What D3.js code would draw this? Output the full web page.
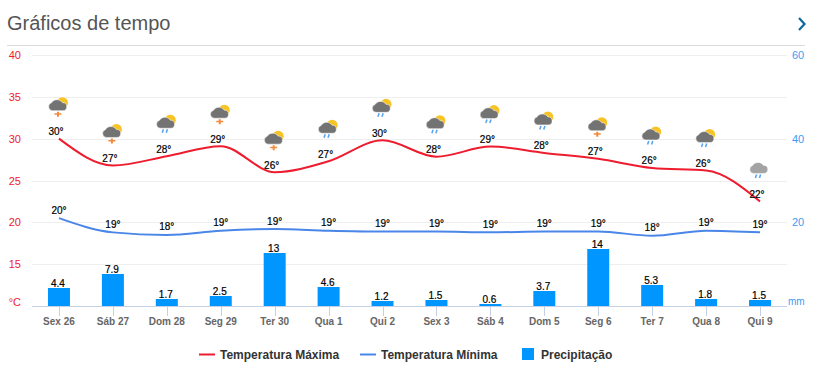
<!DOCTYPE html>
<html>
<head>
<meta charset="utf-8">
<script src="https://cdn.jsdelivr.net/npm/d3@7"></script>
<style>
  html, body { margin: 0; padding: 0; background: #fff; overflow: hidden; }
  text { font-family: "Liberation Sans", Arial, sans-serif; }
</style>
</head>
<body>
<div id="chart"></div>
<script>
const days = ["Sex 26", "Sáb 27", "Dom 28", "Seg 29", "Ter 30", "Qua 1", "Qui 2", "Sex 3", "Sáb 4", "Dom 5", "Seg 6", "Ter 7", "Qua 8", "Qui 9"];
const tempMax = [30.0, 26.8, 27.9, 29.1, 26.0, 27.3, 29.8, 27.85, 29.05, 28.3, 27.6, 26.5, 26.2, 22.5];
const tempMaxLabels = [30, 27, 28, 29, 26, 27, 30, 28, 29, 28, 27, 26, 26, 22];
const tempMin = [20.5, 18.8, 18.5, 19.0, 19.2, 19.0, 18.9, 18.9, 18.8, 18.9, 18.9, 18.4, 19.0, 18.8];
const tempMinLabels = [20, 19, 18, 19, 19, 19, 19, 19, 19, 19, 19, 18, 19, 19];
const precip = [4.4, 7.9, 1.7, 2.5, 13, 4.6, 1.2, 1.5, 0.6, 3.7, 14, 5.3, 1.8, 1.5];
const icons = ["storm", "storm", "rain", "storm", "storm", "rain", "rain", "rain", "rain", "rain", "storm", "rain", "rain", "cloud"];
const tempTicks = [10, 15, 20, 25, 30, 35, 40];
const precipTicks = [20, 40, 60];
const legendItems = ["Temperatura Máxima", "Temperatura Mínima", "Precipitação"];

const RED = "#ed1c2e";
const BLUE = "#4a86e8";
const BAR = "#0096ff";

const width = 828;
const height = 391;
const plotLeft = 32;
const plotRight = 787;
const plotTop = 55;
const plotBottom = 306;

const svg = d3.select("#chart").append("svg")
  .attr("width", width)
  .attr("height", height)
  .style("display", "block");

// header
svg.append("text")
  .attr("x", 7).attr("y", 30)
  .attr("font-size", 20).attr("fill", "#555")
  .text("Gráficos de tempo");

svg.append("path")
  .attr("d", "M799,18 L804.5,24 L799,30")
  .attr("fill", "none").attr("stroke", "#0e6a9c").attr("stroke-width", 2.2);

svg.append("line")
  .attr("x1", 7).attr("x2", 805).attr("y1", 45.5).attr("y2", 45.5)
  .attr("stroke", "#dcdcdc");

const x = d3.scaleBand().domain(days).range([plotLeft, plotRight]);
const xc = d => x(d) + x.bandwidth() / 2;
const yTemp = d3.scaleLinear().domain([10, 40]).range([plotBottom, plotTop]);
const yPrecip = d3.scaleLinear().domain([0, 60]).range([plotBottom, plotTop]);
// the columns in the picture rise a little slower than the right axis
const yBar = d3.scaleLinear().domain([0, 60]).range([plotBottom, plotBottom - 243]);

// gridlines
svg.append("g").selectAll("line")
  .data(tempTicks.slice(1))
  .enter().append("line")
  .attr("x1", plotLeft).attr("x2", plotRight)
  .attr("y1", d => Math.round(yTemp(d)) + 0.5)
  .attr("y2", d => Math.round(yTemp(d)) + 0.5)
  .attr("stroke", "#eeeeee");

// left axis
svg.append("g").selectAll("text")
  .data(tempTicks.slice(1))
  .enter().append("text")
  .attr("x", 21).attr("y", d => yTemp(d) + 4)
  .attr("text-anchor", "end")
  .attr("font-size", 11).attr("fill", RED)
  .text(d => d);

svg.append("text")
  .attr("x", 21).attr("y", 306)
  .attr("text-anchor", "end")
  .attr("font-size", 11).attr("fill", RED)
  .text("°C");

// right axis
svg.append("g").selectAll("text")
  .data(precipTicks)
  .enter().append("text")
  .attr("x", 792).attr("y", d => yPrecip(d) + 4)
  .attr("font-size", 11).attr("fill", "#3d9bf5")
  .text(d => d);

svg.append("text")
  .attr("x", 788).attr("y", 305)
  .attr("font-size", 10).attr("fill", "#3d9bf5")
  .text("mm");

// bars
svg.append("g").selectAll("rect")
  .data(precip)
  .enter().append("rect")
  .attr("x", (d, i) => xc(days[i]) - 11)
  .attr("width", 22)
  .attr("y", d => Math.round(yBar(d)))
  .attr("height", d => plotBottom - Math.round(yBar(d)))
  .attr("fill", BAR);

svg.append("g").selectAll("text")
  .data(precip)
  .enter().append("text")
  .attr("x", (d, i) => xc(days[i]) - 1)
  .attr("y", d => Math.round(yBar(d)) - 1.5)
  .attr("text-anchor", "middle")
  .attr("font-size", 10).attr("fill", "#000")
  .attr("stroke", "#000").attr("stroke-width", 0.2)
  .text(d => d);

// x axis
svg.append("line")
  .attr("x1", plotLeft).attr("x2", plotRight).attr("y1", 306.5).attr("y2", 306.5)
  .attr("stroke", "#c5d0e6");

svg.append("g").selectAll("line")
  .data(days)
  .enter().append("line")
  .attr("x1", d => Math.round(xc(d)) + 0.5)
  .attr("x2", d => Math.round(xc(d)) + 0.5)
  .attr("y1", 306).attr("y2", 316)
  .attr("stroke", "#c5d0e6");

svg.append("g").selectAll("text")
  .data(days)
  .enter().append("text")
  .attr("x", d => xc(d)).attr("y", 325)
  .attr("text-anchor", "middle")
  .attr("font-size", 10).attr("font-weight", "bold").attr("fill", "#666")
  .text(d => d);

// temperature lines
const lineOf = d3.line()
  .x((d, i) => xc(days[i]))
  .y(d => yTemp(d))
  .curve(d3.curveMonotoneX);

svg.append("path")
  .attr("d", lineOf(tempMin))
  .attr("fill", "none").attr("stroke", BLUE).attr("stroke-width", 2);

svg.append("path")
  .attr("d", lineOf(tempMax))
  .attr("fill", "none").attr("stroke", RED).attr("stroke-width", 2);

function drawLabels(values, labels, dx, dy) {
  svg.append("g").selectAll("text")
    .data(values)
    .enter().append("text")
    .attr("x", (d, i) => xc(days[i]) + dx)
    .attr("y", d => yTemp(d) + dy)
    .attr("text-anchor", "middle")
    .attr("font-size", 10).attr("fill", "#000")
    .attr("stroke", "#000").attr("stroke-width", 0.2)
    .text((d, i) => labels[i] + "°");
}
drawLabels(tempMin, tempMinLabels, 0, -4.5);
drawLabels(tempMax, tempMaxLabels, -3, -3.5);

// weather icons, placed over the max temperature point
const cloudPath = "M-6.5,-28 A4,4 0 0 1 -7.5,-35.8 A6.5,6.5 0 0 1 3.5,-36 A4,4 0 0 1 4,-28 Z";

const iconG = svg.append("g").selectAll("g")
  .data(icons)
  .enter().append("g")
  .attr("transform", (d, i) => `translate(${xc(days[i])},${yTemp(tempMax[i])})`);

iconG.filter(d => d !== "cloud").append("circle")
  .attr("cx", 3.5).attr("cy", -36).attr("r", 5.5)
  .attr("fill", "#f7c325");

iconG.append("path")
  .attr("d", cloudPath)
  .attr("fill", d => d === "cloud" ? "#a3a3a3" : "#737373")
  .attr("stroke", "#fff").attr("stroke-width", 0.5);

iconG.filter(d => d === "storm").append("path")
  .attr("d", "M-2,-27 L-2,-25.5 L-4.5,-25.5 L-4.5,-24 L-2,-24 L-2,-22 L0,-22 L0,-24 L2.5,-24 L2.5,-25.5 L0,-25.5 L0,-27 z")
  .attr("fill", "#f58a3c");

iconG.filter(d => d !== "storm").each(function() {
  const g = d3.select(this);
  [-4, 0].forEach(dx => {
    g.append("path")
      .attr("d", `M${dx + 0.6},-27 L${dx - 0.6},-23.5`)
      .attr("stroke", "#5aa5ef").attr("stroke-width", 1.6).attr("fill", "none");
  });
});

// legend
const legend = svg.append("g");
legend.append("line")
  .attr("x1", 199).attr("x2", 215).attr("y1", 354.5).attr("y2", 354.5)
  .attr("stroke", RED).attr("stroke-width", 2);
legend.append("line")
  .attr("x1", 360).attr("x2", 376).attr("y1", 354.5).attr("y2", 354.5)
  .attr("stroke", BLUE).attr("stroke-width", 2);
legend.append("rect")
  .attr("x", 522).attr("y", 348).attr("width", 12).attr("height", 12)
  .attr("fill", BAR);

legend.selectAll("text")
  .data(legendItems)
  .enter().append("text")
  .attr("x", (d, i) => [220, 381, 541][i])
  .attr("y", 359)
  .attr("font-size", 12).attr("font-weight", "bold").attr("fill", "#333")
  .text(d => d);
</script>
</body>
</html>
